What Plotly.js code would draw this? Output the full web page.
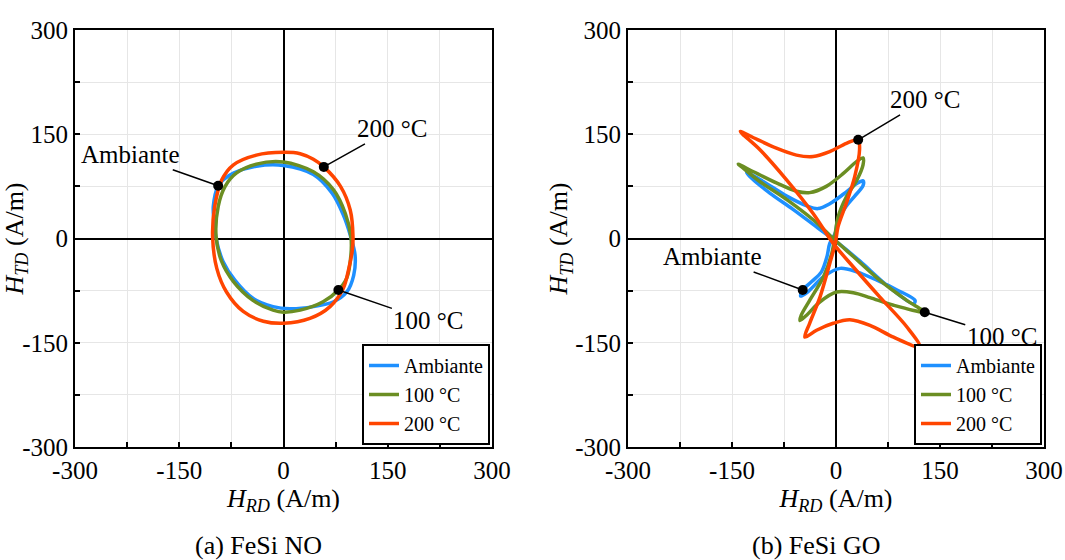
<!DOCTYPE html>
<html>
<head>
<meta charset="utf-8">
<script src="https://cdn.plot.ly/plotly-3.0.1.min.js"></script>
<style>
html, body { margin: 0; padding: 0; background: #fff; }
#chart { width: 1065px; height: 560px; }
#chart text, #chart tspan { font-family: 'Liberation Serif', serif !important; }
</style>
</head>
<body>
<div id="chart"></div>
<script>
// ---------- data ----------
const seriesNames = ['Ambiante', '100 °C', '200 °C'];
const tickValues = [-300, -150, 0, 150, 300];
const tickLabels = ['-300', '-150', '0', '150', '300'];

// (a) FeSi NO
const noAmbX = [-94, -86, -72, -39, 0, 43, 70, 86, 96, 103, 101, 91, 72, 43, 9, -15, -44, -70, -87, -97, -100, -101, -94];
const noAmbY = [76, 85, 94, 104, 105, 92, 65, 34, 5, -24, -53, -77, -91, -98, -101, -98, -86, -60, -33, 0, 25, 46, 76];
const no100X = [0, 43, 72, 89, 97, 97, 91, 79, 57, 24, 0, -15, -44, -72, -89, -97, -94, -84, -68, -39, 0];
const no100Y = [110, 96, 70, 36, 3, -24, -57, -74, -91, -103, -106, -103, -89, -62, -33, 3, 46, 75, 94, 107, 110];
const no200X = [0, 24, 43, 58, 82, 96, 100, 99, 94, 86, 67, 38, 0, -29, -58, -82, -96, -102, -99, -89, -72, -39, 0];
const no200Y = [124, 122, 114, 103, 75, 41, 3, -17, -43, -72, -98, -115, -122, -119, -105, -77, -43, 3, 46, 84, 106, 120, 124];
const noMarkX = [-94, 79, 58];
const noMarkY = [76, -74, 103];

// (b) FeSi GO
const goAmbX = [-129, -105, -71, -42, -26, -9, 11, 30, 39, 39, 27, 13, 2, -1, -9, -13, -21, -35, -48, -51, -41, -18, 6, 30, 59, 88, 114, 112, 73, 35, 1, -26, -62, -95, -122, -129];
const goAmbY = [95, 82, 61, 47, 43, 50, 64, 79, 83, 76, 61, 44, 24, 8, -7, -26, -48, -62, -74, -83, -77, -55, -43, -48, -60, -74, -89, -94, -67, -33, -5, 15, 42, 65, 87, 95];
const go100X = [-141, -119, -86, -57, -38, -14, 11, 30, 39, 39, 30, 15, 3, -1, -6, -18, -38, -50, -52, -42, -23, 1, 25, 49, 83, 128, 102, 63, 25, -4, -33, -71, -110, -136, -141];
const go100Y = [107, 96, 80, 68, 66, 75, 94, 111, 116, 106, 84, 60, 31, 8, -21, -55, -89, -110, -118, -110, -91, -77, -78, -85, -96, -106, -89, -60, -26, 0, 27, 56, 82, 103, 107];
const go200X = [-138, -119, -86, -57, -33, -9, 15, 32, 34, 27, 15, 3, -1, -9, -23, -38, -45, -28, -4, 20, 49, 83, 121, 102, 63, 25, -4, -33, -71, -110, -138];
const go200Y = [154, 145, 130, 120, 118, 125, 137, 142, 128, 89, 51, 17, -7, -36, -84, -122, -142, -132, -122, -117, -125, -142, -156, -127, -84, -41, -7, 36, 84, 128, 154];
const goMarkX = [-48, 128, 32];
const goMarkY = [-74, -106, 142];

const captions = ['(a) FeSi NO', '(b) FeSi GO'];

// ---------- styling ----------
const colors = ['#1e90ff', '#6b8e23', '#ff4500'];
const FONT = 'Liberation Serif';

function loop(x, y, i, xa, ya, leg) {
  return {
    x: x, y: y, type: 'scatter', mode: 'lines',
    name: seriesNames[i], legend: leg, showlegend: true,
    xaxis: xa, yaxis: ya,
    line: {color: colors[i], width: 3.5, shape: 'spline', smoothing: 0.9},
    hoverinfo: 'skip'
  };
}
function marks(x, y, xa, ya) {
  return {x: x, y: y, type: 'scatter', mode: 'markers', showlegend: false,
    xaxis: xa, yaxis: ya, marker: {color: 'black', size: 10}, hoverinfo: 'skip'};
}

const traces = [
  loop(noAmbX, noAmbY, 0, 'x', 'y', 'legend'),
  loop(no100X, no100Y, 1, 'x', 'y', 'legend'),
  loop(no200X, no200Y, 2, 'x', 'y', 'legend'),
  marks(noMarkX, noMarkY, 'x', 'y'),
  loop(goAmbX, goAmbY, 0, 'x2', 'y2', 'legend2'),
  loop(go100X, go100Y, 1, 'x2', 'y2', 'legend2'),
  loop(go200X, go200Y, 2, 'x2', 'y2', 'legend2'),
  marks(goMarkX, goMarkY, 'x2', 'y2')
];

function axis(domain, anchor, title) {
  return {
    domain: domain, anchor: anchor, range: [-300, 300], autorange: false,
    tickmode: 'array', tickvals: tickValues, ticktext: tickLabels,
    ticks: 'inside', ticklen: 5, tickwidth: 1.5, tickcolor: 'black',
    showline: true, linecolor: 'black', linewidth: 2, mirror: true,
    showgrid: true, gridcolor: '#e6e6e6', gridwidth: 1,
    zeroline: true, zerolinecolor: 'black', zerolinewidth: 2,
    minor: {tickmode: 'linear', tick0: 0, dtick: 75, ticks: 'inside', ticklen: 5,
            tickcolor: 'black', showgrid: true, gridcolor: '#e6e6e6', gridwidth: 1},
    tickfont: {family: FONT, size: 25, color: 'black'},
    title: {text: title, font: {family: FONT, size: 26, color: 'black'}, standoff: 0},
    automargin: false, fixedrange: true
  };
}

const xT = '<i>H</i><sub><i>RD</i></sub> (A/m)';
const yT = '<i>H</i><sub><i>TD</i></sub> (A/m)';
const yDom = [113 / 560, 530 / 560];

function legendCfg(xr) {
  return {x: xr, y: 115 / 560, xanchor: 'right', yanchor: 'bottom', xref: 'paper', yref: 'paper',
    bgcolor: 'white', bordercolor: 'black', borderwidth: 2,
    font: {family: FONT, size: 20, color: 'black'}, tracegroupgap: 0, itemwidth: 30};
}

function lab(xa, ya, x, y, text, ax, ay) {
  return {xref: xa, yref: ya, x: x, y: y, text: text, showarrow: true, arrowhead: 0,
    arrowwidth: 1.5, arrowcolor: 'black', ax: ax, ay: ay, standoff: 0,
    font: {family: FONT, size: 25, color: 'black'}};
}

function cap(xp, text) {
  return {xref: 'paper', yref: 'paper', x: xp / 1065, y: 15 / 560, text: text, showarrow: false,
    xanchor: 'center', yanchor: 'middle', font: {family: FONT, size: 26, color: 'black'}};
}

const layout = {
  width: 1065, height: 560, autosize: false,
  margin: {l: 0, r: 0, t: 0, b: 0},
  paper_bgcolor: 'white', plot_bgcolor: 'white',
  font: {family: FONT, size: 24, color: 'black'},
  xaxis: axis([75 / 1065, 492 / 1065], 'y', xT),
  yaxis: axis(yDom, 'x', yT),
  xaxis2: axis([628 / 1065, 1044 / 1065], 'y2', xT),
  yaxis2: axis(yDom, 'x2', yT),
  legend: legendCfg(490 / 1065),
  legend2: legendCfg(1042 / 1065),
  annotations: [
    lab('x', 'y', noMarkX[0], noMarkY[0], seriesNames[0], -88, -31),
    lab('x', 'y', noMarkX[1], noMarkY[1], seriesNames[1], 90, 31),
    lab('x', 'y', noMarkX[2], noMarkY[2], seriesNames[2], 68, -38),
    lab('x2', 'y2', goMarkX[0], goMarkY[0], seriesNames[0], -90, -33),
    lab('x2', 'y2', goMarkX[1], goMarkY[1], seriesNames[1], 77, 24),
    lab('x2', 'y2', goMarkX[2], goMarkY[2], seriesNames[2], 67, -40),
    cap(258, captions[0]),
    cap(816, captions[1])
  ]
};

Plotly.newPlot('chart', traces, layout, {displayModeBar: false});
</script>
</body>
</html>
